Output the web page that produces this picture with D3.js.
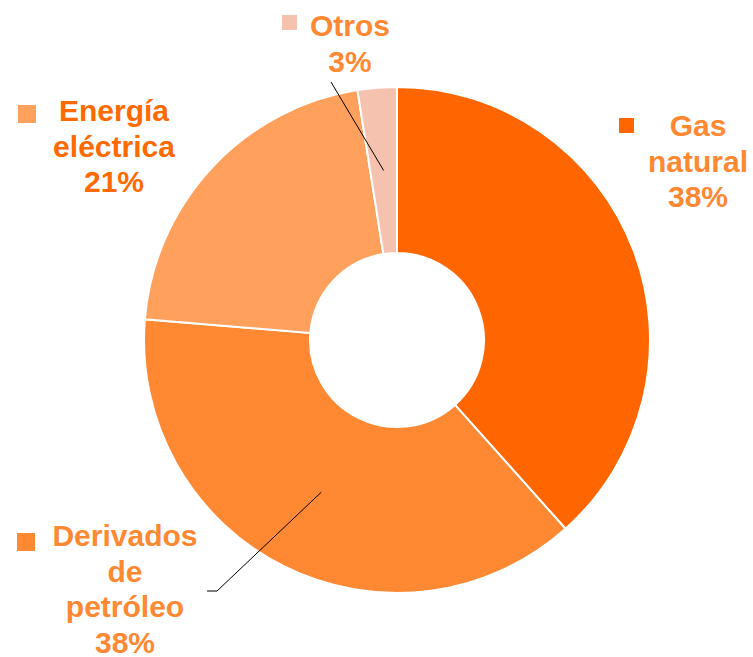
<!DOCTYPE html>
<html>
<head>
<meta charset="utf-8">
<script src="https://cdn.jsdelivr.net/npm/d3@7"></script>
<style>
  body { margin: 0; background: #fff; }
  svg { display: block; }
</style>
</head>
<body>
<div id="chart"></div>
<script>
// Data
const categories = ["Gas natural", "Derivados de petróleo", "Energía eléctrica", "Otros"];
const shares = [38.4, 37.9, 21.2, 2.5];
const labelLines = [["Gas", "natural"], ["Derivados", "de", "petróleo"], ["Energía", "eléctrica"], ["Otros"]];

const width = 753, height = 657;
const cx = 397, cy = 340;
const outerR = 253, innerR = 87;

const sliceColors = ["#ff6600", "#ff8833", "#ffa05c", "#f5c2b0"];
const textColors = ["#ff8833", "#ff8833", "#ff6a00", "#ff8833"];

// label layout: text centre x, first baseline y, legend square position
const labelPos = [
  { x: 698, y: 136, sx: 619, sy: 118, size: 15 },
  { x: 125, y: 546, sx: 17, sy: 533, size: 18 },
  { x: 114, y: 121, sx: 18, sy: 105, size: 18 },
  { x: 350, y: 36, sx: 282, sy: 15, size: 15 }
];
const lineH = 35.5;

const svg = d3.select("#chart")
  .append("svg")
  .attr("width", width)
  .attr("height", height);

const g = svg.append("g")
  .attr("transform", "translate(" + cx + "," + cy + ")");

const pie = d3.pie().sort(null).value(d => d);
const arcs = pie(shares);

const arc = d3.arc().innerRadius(innerR).outerRadius(outerR);

g.selectAll("path.slice")
  .data(arcs)
  .enter()
  .append("path")
  .attr("class", "slice")
  .attr("d", arc)
  .attr("fill", (d, i) => sliceColors[i])
  .attr("stroke", "#ffffff")
  .attr("stroke-width", 2);

// leader lines (only for Derivados and Otros in the reference)
const leaders = [
  null,
  { pts: [[207, 591], [217, 591]] },
  null,
  { pts: [[331, 82]] }
];
arcs.forEach((d, i) => {
  if (!leaders[i]) return;
  const c = arc.centroid(d);
  const pts = leaders[i].pts.map(p => [p[0], p[1]]).concat([[c[0] + cx, c[1] + cy]]);
  svg.append("path")
    .attr("d", d3.line()(pts))
    .attr("fill", "none")
    .attr("stroke", "#000")
    .attr("stroke-width", 1);
});

// labels
categories.forEach((cat, i) => {
  const p = labelPos[i];
  svg.append("rect")
    .attr("x", p.sx).attr("y", p.sy)
    .attr("width", p.size).attr("height", p.size)
    .attr("fill", sliceColors[i]);
  const lines = labelLines[i].concat([Math.round(shares[i]) + "%"]);
  const t = svg.append("text")
    .attr("text-anchor", "middle")
    .attr("font-family", "'Liberation Sans', Arial, sans-serif")
    .attr("font-weight", "bold")
    .attr("font-size", 30)
    .attr("fill", textColors[i]);
  lines.forEach((ln, k) => {
    t.append("tspan")
      .attr("x", p.x)
      .attr("y", p.y + k * lineH)
      .text(ln);
  });
});
</script>
</body>
</html>
